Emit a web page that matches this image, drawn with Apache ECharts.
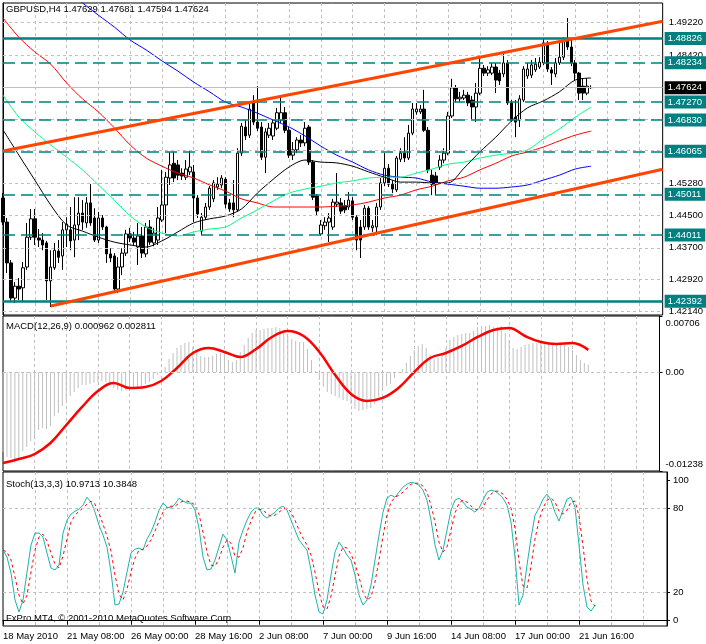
<!DOCTYPE html>
<html><head><meta charset="utf-8">
<script src="https://cdn.jsdelivr.net/npm/echarts@6/dist/echarts.min.js"></script>
<style>html,body{margin:0;padding:0;background:#fff}#c{width:706px;height:644px}</style>
</head><body><div id="c"></div>
<script>
// ---------------- DATA ----------------
const symbolName = 'GBPUSD,H4';
const macdName = 'MACD(12,26,9)';
const stochName = 'Stoch(13,3,3)';
const watermark = 'FxPro MT4, \u00A9 2001-2010 MetaQuotes Software Corp.';

const slotCount = 167;
const xTickIndex = [0, 16, 32, 48, 64, 80, 96, 112, 128, 144];
const xTickLabels = ['18 May 2010', '21 May 08:00', '26 May 00:00', '28 May 16:00', '2 Jun 08:00',
  '7 Jun 00:00', '9 Jun 16:00', '14 Jun 08:00', '17 Jun 00:00', '21 Jun 16:00'];

const opens = [
1.4492,1.4433,1.4333,1.4247,1.4276,1.4272,1.4323,1.4396,1.4441,1.4394,
1.4389,1.4382,1.4289,1.4321,1.4362,1.4350,1.4414,1.4414,1.4389,1.4426,
1.4455,1.4431,1.4480,1.4443,1.4389,1.4443,1.4421,1.4355,1.4350,1.4269,
1.4323,1.4357,1.4404,1.4394,1.4372,1.4399,1.4355,1.4421,1.4382,1.4389,
1.4438,1.4475,1.4541,1.4577,1.4573,1.4553,1.4543,1.4556,1.4556,1.4492,
1.4411,1.4445,1.4470,1.4490,1.4519,1.4524,1.4538,1.4480,1.4480,1.4463,
1.4602,1.4666,1.4646,1.4725,1.4678,1.4666,1.4592,1.4646,1.4644,1.4663,
1.4683,1.4701,1.4658,1.4597,1.4610,1.4634,1.4627,1.4666,1.4580,1.4497,
1.4404,1.4424,1.4433,1.4421,1.4477,1.4480,1.4472,1.4470,1.4485,1.4445,
1.4421,1.4421,1.4467,1.4419,1.4421,1.4470,1.4529,1.4565,1.4526,1.4512,
1.4587,1.4602,1.4590,1.4651,1.4703,1.4703,1.4710,1.4658,1.4548,1.4546,
1.4568,1.4585,1.4602,1.4693,1.4762,1.4735,1.4737,1.4744,1.4732,1.4715,
1.4749,1.4810,1.4798,1.4798,1.4813,1.4798,1.4796,1.4823,1.4725,1.4690,
1.4683,1.4732,1.4791,1.4793,1.4806,1.4813,1.4823,1.4872,1.4806,1.4796,
1.4823,1.4837,1.4879,1.4862,1.4823,1.4798,1.4766,1.4749,1.47629];
const highs = [
1.4504,1.4443,1.4340,1.4286,1.4296,1.4335,1.4431,1.4465,1.4465,1.4416,
1.4406,1.4387,1.4364,1.4382,1.4389,1.4433,1.4445,1.4470,1.4494,1.4494,
1.4487,1.4494,1.4526,1.4467,1.4458,1.4450,1.4424,1.4369,1.4357,1.4347,
1.4369,1.4414,1.4419,1.4409,1.4431,1.4421,1.4431,1.4438,1.4419,1.4470,
1.4561,1.4556,1.4605,1.4605,1.4585,1.4565,1.4585,1.4607,1.4573,1.4499,
1.4455,1.4480,1.4521,1.4536,1.4543,1.4548,1.4543,1.4490,1.4536,1.4614,
1.4676,1.4683,1.4725,1.4744,1.4766,1.4678,1.4663,1.4676,1.4683,1.4713,
1.4739,1.4715,1.4666,1.4629,1.4641,1.4646,1.4678,1.4671,1.4585,1.4502,
1.4438,1.4445,1.4455,1.4490,1.4553,1.4492,1.4487,1.4507,1.4494,1.4450,
1.4438,1.4475,1.4472,1.4438,1.4480,1.4541,1.4602,1.4575,1.4536,1.4595,
1.4614,1.4641,1.4671,1.4725,1.4725,1.4720,1.4757,1.4666,1.4561,1.4556,
1.4597,1.4614,1.4703,1.4784,1.4769,1.4752,1.4757,1.4752,1.4742,1.4774,
1.4837,1.4818,1.4815,1.4823,1.4823,1.4806,1.4847,1.4830,1.4732,1.4732,
1.4744,1.4815,1.4823,1.4830,1.4835,1.4837,1.4882,1.4877,1.4813,1.4835,
1.4874,1.4886,1.4933,1.4884,1.4830,1.4801,1.4786,1.4786,1.47681];
const lows = [
1.4426,1.4308,1.4240,1.4235,1.4242,1.4237,1.4316,1.4389,1.4377,1.4372,
1.4364,1.4242,1.4225,1.4316,1.4333,1.4316,1.4372,1.4364,1.4347,1.4389,
1.4414,1.4419,1.4424,1.4384,1.4382,1.4414,1.4333,1.4335,1.4259,1.4259,
1.4303,1.4350,1.4384,1.4377,1.4328,1.4345,1.4347,1.4377,1.4374,1.4377,
1.4433,1.4406,1.4524,1.4531,1.4536,1.4536,1.4536,1.4548,1.4433,1.4443,
1.4401,1.4438,1.4463,1.4482,1.4512,1.4516,1.4467,1.4458,1.4445,1.4458,
1.4595,1.4634,1.4639,1.4671,1.4656,1.4585,1.4553,1.4639,1.4634,1.4658,
1.4676,1.4651,1.4590,1.4585,1.4602,1.4617,1.4619,1.4573,1.4487,1.4450,
1.4399,1.4414,1.4384,1.4414,1.4470,1.4453,1.4455,1.4463,1.4438,1.4364,
1.4345,1.4414,1.4414,1.4409,1.4401,1.4463,1.4521,1.4519,1.4504,1.4507,
1.4580,1.4580,1.4585,1.4646,1.4696,1.4698,1.4654,1.4553,1.4499,1.4499,
1.4561,1.4577,1.4597,1.4688,1.4727,1.4727,1.4732,1.4717,1.4683,1.4678,
1.4744,1.4791,1.4791,1.4793,1.4749,1.4769,1.4788,1.4720,1.4678,1.4641,
1.4666,1.4727,1.4784,1.4786,1.4801,1.4808,1.4818,1.4801,1.4769,1.4788,
1.4818,1.4830,1.4855,1.4815,1.4781,1.4732,1.4732,1.4744,1.47594];
const closes = [
1.4433,1.4333,1.4247,1.4276,1.4269,1.4321,1.4396,1.4441,1.4396,1.4389,
1.4377,1.4289,1.4323,1.4364,1.4347,1.4414,1.4428,1.4387,1.4426,1.4455,
1.4433,1.4480,1.4431,1.4389,1.4443,1.4421,1.4355,1.4345,1.4269,1.4323,
1.4357,1.4404,1.4394,1.4384,1.4399,1.4357,1.4421,1.4384,1.4406,1.4443,
1.4475,1.4543,1.4573,1.4541,1.4548,1.4546,1.4563,1.4568,1.4492,1.4453,
1.4445,1.4470,1.4516,1.4529,1.4526,1.4541,1.4477,1.4465,1.4463,1.4602,
1.4668,1.4644,1.4710,1.4678,1.4663,1.4592,1.4654,1.4663,1.4676,1.4701,
1.4701,1.4658,1.4597,1.4610,1.4634,1.4627,1.4663,1.4580,1.4494,1.4460,
1.4426,1.4433,1.4443,1.4482,1.4482,1.4460,1.4463,1.4487,1.4445,1.4389,
1.4389,1.4467,1.4421,1.4424,1.4470,1.4529,1.4565,1.4526,1.4514,1.4590,
1.4602,1.4590,1.4651,1.4710,1.4710,1.4710,1.4658,1.4561,1.4526,1.4526,
1.4585,1.4602,1.4693,1.4762,1.4735,1.4739,1.4744,1.4725,1.4715,1.4749,
1.4810,1.4798,1.4806,1.4813,1.4781,1.4779,1.4823,1.4725,1.4683,1.4678,
1.4735,1.4808,1.4808,1.4818,1.4820,1.4825,1.4872,1.4808,1.4798,1.4823,
1.4837,1.4879,1.4862,1.4823,1.4798,1.4749,1.4749,1.4766,1.47624];

// moving averages, read every 4th bar
const maIndex = [0,4,8,12,16,20,24,28,32,36,40,44,48,52,56,60,64,68,72,76,80,84,88,92,96,100,104,108,112,116,120,124,128,132,136,140,144,148];
const maBlack = [1.4659,1.4597,1.4536,1.4475,1.4426,1.4411,1.4396,1.4384,1.4377,1.4372,1.4387,1.4409,1.4431,1.4441,1.4448,1.4465,1.4504,1.4538,1.4568,1.4585,1.4580,1.4578,1.4570,1.4556,1.4543,1.4531,1.4531,1.4529,1.4529,1.4565,1.4605,1.4641,1.4681,1.4713,1.4730,1.4752,1.4781,1.4786];
const maGreen = [1.4744,1.4690,1.4654,1.4622,1.4592,1.4561,1.4524,1.4487,1.4448,1.4421,1.4406,1.4399,1.4409,1.4416,1.4421,1.4443,1.4463,1.4485,1.4504,1.4514,1.4521,1.4529,1.4534,1.4541,1.4543,1.4543,1.4553,1.4563,1.4575,1.4580,1.4590,1.4597,1.4602,1.4610,1.4637,1.4661,1.4690,1.4715];
const maRed = [1.4933,1.4886,1.4850,1.4820,1.4774,1.4735,1.4703,1.4664,1.4622,1.4590,1.4570,1.4553,1.4541,1.4524,1.4509,1.4490,1.4480,1.4470,1.4470,1.4470,1.4470,1.4472,1.4475,1.4482,1.4492,1.4499,1.4512,1.4521,1.4534,1.4543,1.4561,1.4577,1.4595,1.4605,1.4617,1.4632,1.4646,1.4656];
const maBlue = [null,null,null,null,1.5000,1.4970,1.4940,1.4911,1.4879,1.4855,1.4828,1.4803,1.4776,1.4752,1.4727,1.4715,1.4700,1.4683,1.4666,1.4644,1.4619,1.4597,1.4580,1.4561,1.4548,1.4543,1.4541,1.4531,1.4526,1.4521,1.4516,1.4516,1.4519,1.4524,1.4536,1.4548,1.4563,1.4570];

// channel trend lines: [bar index, price]
const trendUpper = [[0, 1.46072], [166, 1.49252]];
const trendLower = [[12, 1.42274], [166, 1.45626]];

// horizontal levels
const solidLevels = [1.48826, 1.42392];
const dashedLevels = [1.48234, 1.47270, 1.46830, 1.46065, 1.45011, 1.44011];

// price axis
const priceMin = 1.42054, priceMax = 1.49698;
const priceGridValues = [1.4922, 1.4842, 1.4764, 1.4686, 1.4608, 1.4528, 1.4450, 1.4370, 1.4292, 1.4214];
const priceLabelValues = [1.4922, 1.4842, 1.4528, 1.4450, 1.4370, 1.4292, 1.4214];

// MACD
const macdMin = -0.01238, macdMax = 0.00706;
const macdMain = [
-0.00999,-0.01062,-0.01075,-0.01137,-0.01075,-0.00987,-0.00937,-0.00862,-0.00836,-0.00724,
-0.00699,-0.00711,-0.00673,-0.00548,-0.00510,-0.00423,-0.00347,-0.00297,-0.00247,-0.00197,
-0.00159,-0.00159,-0.00147,-0.00134,-0.00122,-0.00109,-0.00122,-0.00134,-0.00197,-0.00222,
-0.00235,-0.00222,-0.00209,-0.00197,-0.00184,-0.00172,-0.00147,-0.00122,-0.00084,-0.00034,
0.00004,0.00066,0.00167,0.00242,0.00305,0.00342,0.00367,0.00380,0.00317,0.00255,
0.00204,0.00192,0.00192,0.00204,0.00229,0.00242,0.00217,0.00154,0.00129,0.00154,
0.00255,0.00342,0.00430,0.00493,0.00530,0.00530,0.00543,0.00556,0.00556,0.00568,
0.00556,0.00518,0.00455,0.00418,0.00393,0.00380,0.00380,0.00292,0.00154,0.00016,
-0.00097,-0.00184,-0.00247,-0.00272,-0.00297,-0.00322,-0.00347,-0.00360,-0.00398,-0.00460,
-0.00485,-0.00473,-0.00460,-0.00448,-0.00398,-0.00310,-0.00222,-0.00172,-0.00147,-0.00071,
-0.00009,0.00041,0.00117,0.00204,0.00280,0.00330,0.00355,0.00305,0.00217,0.00167,
0.00179,0.00217,0.00305,0.00405,0.00443,0.00468,0.00480,0.00493,0.00493,0.00518,
0.00568,0.00581,0.00581,0.00593,0.00568,0.00568,0.00581,0.00493,0.00405,0.00305,
0.00292,0.00317,0.00342,0.00355,0.00367,0.00367,0.00380,0.00367,0.00367,0.00367,
0.00367,0.00355,0.00342,0.00317,0.00280,0.00217,0.00154,0.00117,0.000962];
const macdSignal = [-0.01137,-0.01087,-0.01025,-0.00887,-0.00661,-0.00435,-0.00235,-0.00134,-0.00197,-0.00184,-0.00109,0.00054,0.00242,0.00305,0.00255,0.00192,0.00292,0.00443,0.00518,0.00455,0.00255,-0.00034,-0.00272,-0.00360,-0.00322,-0.00197,0.00004,0.00179,0.00242,0.00330,0.00443,0.00530,0.00556,0.00455,0.00380,0.00355,0.00367,0.002811];
const macdLabelValues = [0.00706, 0, -0.01238];

// Stochastic
const stochMin = -3.8, stochMax = 106.2;
const stochLevels = [20, 80];
const stochLabelValues = [100, 80, 20, 0];
const stochMain = [
50.4,45.4,34.0,14.8,6.2,14.8,34.7,54.0,62.6,62.6,
59.7,48.3,37.6,36.2,39.7,62.6,71.8,76.1,78.2,79.7,
82.5,88.2,84.7,77.5,68.3,61.1,52.6,34.7,11.2,11.9,
20.5,34.7,48.3,51.1,51.9,50.4,58.3,63.3,70.4,79.0,
84.0,81.1,80.4,83.2,87.5,85.4,84.0,84.0,79.0,66.1,
45.4,36.2,36.9,43.3,52.6,61.8,57.6,46.2,34.0,56.1,
64.7,71.8,77.5,80.4,80.4,75.4,73.3,75.4,77.5,80.4,
81.8,79.0,71.8,64.7,57.6,54.0,50.4,36.2,18.3,6.2,
4.8,14.8,32.6,49.0,56.1,51.9,46.9,43.3,32.6,18.3,
11.2,14.8,25.5,43.3,61.1,77.5,87.5,89.7,88.2,91.8,
95.4,97.5,98.9,98.2,96.8,93.2,86.1,71.8,54.0,43.3,
50.4,64.7,79.0,86.1,87.5,84.7,81.1,79.7,77.5,80.4,
86.1,91.8,93.2,92.5,90.4,87.5,82.5,70.4,45.4,11.2,
18.3,39.7,59.0,75.4,80.4,86.8,90.4,86.1,77.5,71.1,
79.0,86.8,88.2,81.1,54.0,25.5,9.8,6.9,10.9713];
const stochSignal = [
50.4,49.0,43.3,31.2,18.3,11.9,18.3,34.7,50.4,59.7,
61.8,56.8,48.3,40.4,37.6,46.2,58.3,70.4,75.4,78.2,
80.4,83.2,85.4,83.2,76.8,69.0,60.4,49.7,32.6,19.0,
14.8,22.6,34.7,44.7,50.4,51.1,53.3,57.6,64.0,71.1,
77.5,81.1,81.8,81.8,84.0,85.4,85.4,84.7,82.5,76.1,
63.3,49.0,39.7,39.0,44.0,52.6,57.6,55.4,46.2,45.4,
51.9,63.3,71.1,77.5,79.7,79.0,76.1,74.7,75.4,77.5,
79.7,80.4,77.5,71.8,64.7,59.0,54.0,46.9,34.7,20.5,
9.8,8.3,17.6,31.9,46.2,52.6,51.9,47.6,40.4,31.2,
20.5,14.8,16.9,27.6,43.3,60.4,75.4,84.7,88.2,89.7,
91.8,94.7,97.5,98.2,98.2,96.1,91.8,82.5,70.4,56.1,
49.0,52.6,64.7,76.8,84.0,86.1,84.7,81.8,79.7,79.0,
81.1,86.1,90.4,92.5,92.5,90.4,86.8,80.4,66.1,42.6,
24.8,23.3,39.0,58.3,71.8,80.4,86.1,87.5,84.7,78.2,
76.1,79.0,84.7,85.4,74.7,53.3,29.7,14.1,10.3848];

// ---------------- CHART ----------------
const FONT = 'Liberation Sans';
const FS = 9.5;
const teal = '#008080';
const gridGrey = '#c0c0c0';
const last = closes.length - 1;

const categories = Array.from({length: slotCount}, (_, i) => String(i));
const labelMap = new Map(xTickIndex.map((k, n) => [k, xTickLabels[n]]));
const pairs = (idx, vals) => idx.map((i, k) => [i, vals[k]]).filter(p => p[1] != null);
const candleData = opens.map((o, i) => [o, closes[i], lows[i], highs[i]]);

const titleText = symbolName + ' ' + [opens[last], highs[last], lows[last], closes[last]].map(v => v.toFixed(5)).join(' ');
const macdTitle = macdName + ' ' + macdMain[last].toFixed(6) + ' ' + macdSignal[macdSignal.length - 1].toFixed(6);
const stochTitle = stochName + ' ' + stochMain[last].toFixed(4) + ' ' + stochSignal[last].toFixed(4);

const gridBox = { left: 3, width: 664, show: true, borderColor: '#000', borderWidth: 1, backgroundColor: '#fff' };
const txt = { color: '#000', fontSize: FS, fontFamily: FONT };

function makeX(gridIndex, bottom) {
  return {
    type: 'category', gridIndex, data: categories, boundaryGap: false,
    axisLine: { show: bottom, lineStyle: { color: '#000' } },
    axisTick: { show: bottom, interval: (i) => labelMap.has(i), length: 4, lineStyle: { color: '#000' } },
    axisLabel: { show: bottom, interval: (i) => labelMap.has(i), formatter: (v, i) => labelMap.get(Number(v)) || '',
      align: 'left', margin: 5, ...txt },
    splitLine: { show: true, interval: (i) => i > 0 && i % 8 === 0, lineStyle: { color: gridGrey, type: [3, 3], width: 1 } }
  };
}
function hLines(gridIdx, values) {
  return {
    type: 'line', xAxisIndex: gridIdx, yAxisIndex: gridIdx, data: [], silent: true, z: 1,
    markLine: { silent: true, symbol: 'none', animation: false, precision: 6, label: { show: false },
      lineStyle: { color: gridGrey, type: [3, 3], width: 1 },
      data: values.map(v => ({ yAxis: v })) }
  };
}
const boxLabel = (bg) => ({ show: true, position: 'end', distance: 2, backgroundColor: bg, color: '#fff',
  padding: [2, 4, 1, 3], fontSize: FS, fontFamily: FONT, formatter: (p) => Number(p.value).toFixed(5) });

const option = {
  animation: false,
  backgroundColor: '#fff',
  title: [
    { text: titleText, left: 6, top: 4, padding: 0, textStyle: { ...txt, fontWeight: 'normal' } },
    { text: macdTitle, left: 6, top: 321, padding: 0, textStyle: { ...txt, fontWeight: 'normal' } },
    { text: stochTitle, left: 6, top: 479, padding: 0, textStyle: { ...txt, fontWeight: 'normal' } },
    { text: watermark, left: 6, top: 613, padding: 0, textStyle: { ...txt, fontWeight: 'normal' } }
  ],
  grid: [
    { ...gridBox, top: 3, height: 312 },
    { ...gridBox, top: 316, height: 155 },
    { ...gridBox, top: 472, height: 154 }
  ],
  xAxis: [
    makeX(0, false), makeX(1, false), makeX(2, true),
    { type: 'value', gridIndex: 0, min: 0, max: slotCount - 1, show: false }
  ],
  yAxis: [
    { type: 'value', gridIndex: 0, position: 'right', min: priceMin, max: priceMax,
      axisLine: { show: true, lineStyle: { color: '#000' } }, splitLine: { show: false },
      axisTick: { show: true, customValues: priceLabelValues, length: 3, lineStyle: { color: '#000' } },
      axisLabel: { customValues: priceLabelValues, formatter: (v) => v.toFixed(5), margin: 6, ...txt } },
    { type: 'value', gridIndex: 1, position: 'right', min: macdMin, max: macdMax,
      axisLine: { show: true, lineStyle: { color: '#000' } }, splitLine: { show: false },
      axisTick: { show: true, customValues: macdLabelValues, length: 3, lineStyle: { color: '#000' } },
      axisLabel: { customValues: macdLabelValues, margin: 6, ...txt,
        formatter: (v) => Math.abs(v - macdMax) < 1e-9 ? '{t|' + v.toFixed(5) + '}'
          : Math.abs(v - macdMin) < 1e-9 ? '{b|' + v.toFixed(5) + '}' : v.toFixed(2),
        rich: { t: { padding: [14, 0, 0, 0], ...txt }, b: { padding: [0, 0, 14, 0], ...txt } } } },
    { type: 'value', gridIndex: 2, position: 'right', min: stochMin, max: stochMax,
      axisLine: { show: true, lineStyle: { color: '#000' } }, splitLine: { show: false },
      axisTick: { show: true, customValues: stochLabelValues, length: 3, lineStyle: { color: '#000' } },
      axisLabel: { customValues: stochLabelValues, formatter: (v) => String(Math.round(v)), margin: 6, ...txt } }
  ],
  series: [
    hLines(0, priceGridValues),
    hLines(1, [0]),
    hLines(2, stochLevels),
    { // horizontal support / resistance levels + current price
      type: 'line', xAxisIndex: 0, yAxisIndex: 0, data: [], silent: true, z: 2,
      markLine: { silent: true, symbol: 'none', animation: false, precision: 6, label: boxLabel(teal),
        data: [
          ...dashedLevels.map(v => ({ yAxis: v, lineStyle: { color: teal, width: 1.5, type: [12, 6] } })),
          ...solidLevels.map(v => ({ yAxis: v, lineStyle: { color: teal, width: 2.5, type: 'solid' } })),
          { yAxis: closes[last], lineStyle: { color: gridGrey, width: 1, type: 'solid' }, label: boxLabel('#000') }
        ] }
    },
    { type: 'candlestick', name: symbolName, xAxisIndex: 0, yAxisIndex: 0, data: candleData, barWidth: 3, z: 3,
      itemStyle: { color: '#ffffff', color0: '#000000', borderColor: '#000000', borderColor0: '#000000', borderWidth: 1 } },
    { type: 'line', xAxisIndex: 0, yAxisIndex: 0, data: pairs(maIndex, maBlue), showSymbol: false, smooth: 0.3, z: 4,
      lineStyle: { color: '#0000ff', width: 1 }, silent: true },
    { type: 'line', xAxisIndex: 0, yAxisIndex: 0, data: pairs(maIndex, maRed), showSymbol: false, smooth: 0.3, z: 4,
      lineStyle: { color: '#ff0000', width: 1 }, silent: true },
    { type: 'line', xAxisIndex: 0, yAxisIndex: 0, data: pairs(maIndex, maGreen), showSymbol: false, smooth: 0.3, z: 4,
      lineStyle: { color: '#00ff7f', width: 1 }, silent: true },
    { type: 'line', xAxisIndex: 0, yAxisIndex: 0, data: pairs(maIndex, maBlack), showSymbol: false, smooth: 0.3, z: 4,
      lineStyle: { color: '#000000', width: 1 }, silent: true },
    { type: 'line', xAxisIndex: 3, yAxisIndex: 0, data: trendUpper, showSymbol: false, z: 5, clip: true,
      lineStyle: { color: '#ff4500', width: 3 }, silent: true },
    { type: 'line', xAxisIndex: 3, yAxisIndex: 0, data: trendLower, showSymbol: false, z: 5, clip: true,
      lineStyle: { color: '#ff4500', width: 3 }, silent: true },
    // MACD
    { type: 'bar', name: 'MACD', xAxisIndex: 1, yAxisIndex: 1, data: macdMain, barWidth: 1, z: 2,
      itemStyle: { color: '#c0c0c0' }, silent: true },
    { type: 'line', name: 'Signal', xAxisIndex: 1, yAxisIndex: 1, data: pairs(maIndex, macdSignal), showSymbol: false,
      smooth: 0.4, z: 3, lineStyle: { color: '#ff0000', width: 2.5 }, silent: true },
    // Stochastic
    { type: 'line', name: '%K', xAxisIndex: 2, yAxisIndex: 2, data: stochMain, showSymbol: false, z: 3,
      lineStyle: { color: '#20b2aa', width: 1 }, silent: true },
    { type: 'line', name: '%D', xAxisIndex: 2, yAxisIndex: 2, data: stochSignal, showSymbol: false, z: 3,
      lineStyle: { color: '#ff0000', width: 1, type: [3, 3] }, silent: true }
  ]
};

const chart = echarts.init(document.getElementById('c'), null, { renderer: 'canvas' });
chart.setOption(option);
</script></body></html>
